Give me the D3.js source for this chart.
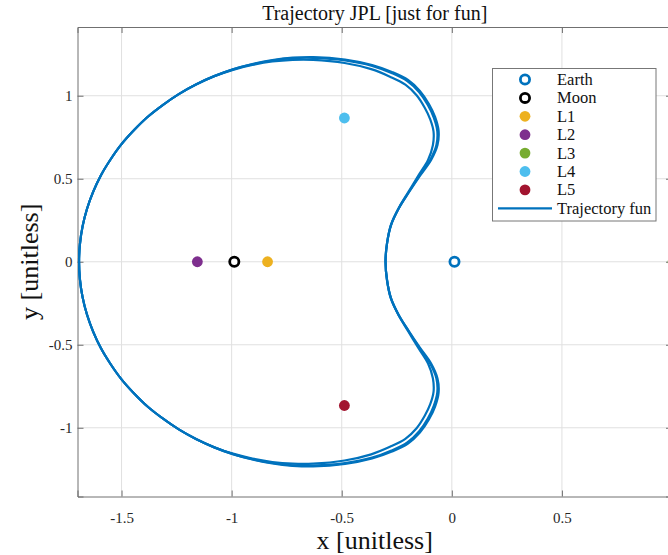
<!DOCTYPE html>
<html>
<head>
<meta charset="utf-8">
<script src="https://cdn.jsdelivr.net/npm/d3@7"></script>
<style>
  html, body { margin: 0; padding: 0; background: #fff; }
  svg { display: block; }
  text { font-family: "Liberation Serif", "DejaVu Serif", serif; }
</style>
</head>
<body>
<svg id="chart" width="668" height="555"></svg>
<script>
// Earth–Moon rotating frame: primaries and Lagrange points
const bodyNames = ["Earth", "Moon", "L1", "L2", "L3", "L4", "L5"];
const bodyX = [0.01215, -0.98785, -0.8369, -1.1557, 1.00506, -0.48785, -0.48785];
const bodyY = [0, 0, 0, 0, 0, 0.866, -0.866];
const bodyColors = ["#0072BD", "#000000", "#EDB120", "#7E2F8E", "#77AC30", "#4DBEEE", "#A2142F"];
const bodyHollow = [true, true, false, false, false, false, false];

// Three successive revolutions of the trajectory (x, y), starting at the inner crossing of y = 0
const loop1 = [
  [-0.301, 0.000], [-0.294, 0.113], [-0.276, 0.221], [-0.240, 0.324], [-0.194, 0.420],
  [-0.145, 0.517], [-0.094, 0.613], [-0.065, 0.703], [-0.060, 0.788], [-0.076, 0.872],
  [-0.104, 0.950], [-0.145, 1.029], [-0.199, 1.095], [-0.272, 1.143], [-0.362, 1.185],
  [-0.485, 1.218], [-0.630, 1.233], [-0.723, 1.229], [-0.815, 1.215], [-0.906, 1.191],
  [-0.994, 1.159], [-1.079, 1.118], [-1.162, 1.068], [-1.240, 1.010], [-1.313, 0.944],
  [-1.382, 0.872], [-1.444, 0.792], [-1.501, 0.707], [-1.550, 0.616], [-1.594, 0.520],
  [-1.629, 0.421], [-1.657, 0.318], [-1.677, 0.213], [-1.689, 0.106], [-1.693, 0.000],
  [-1.689, -0.106], [-1.677, -0.213], [-1.657, -0.318], [-1.629, -0.421], [-1.594, -0.520],
  [-1.550, -0.616], [-1.501, -0.707], [-1.444, -0.792], [-1.382, -0.872], [-1.313, -0.944],
  [-1.240, -1.010], [-1.162, -1.068], [-1.079, -1.118], [-0.994, -1.159], [-0.906, -1.191],
  [-0.815, -1.215], [-0.723, -1.229], [-0.630, -1.233], [-0.485, -1.218], [-0.362, -1.185],
  [-0.272, -1.143], [-0.199, -1.095], [-0.145, -1.029], [-0.104, -0.950], [-0.076, -0.872],
  [-0.060, -0.788], [-0.065, -0.703], [-0.094, -0.613], [-0.145, -0.517], [-0.194, -0.420],
  [-0.240, -0.324], [-0.276, -0.221], [-0.294, -0.113]
];
const loop2 = [
  [-0.301, 0.000], [-0.294, 0.113], [-0.276, 0.221], [-0.240, 0.324], [-0.195, 0.420],
  [-0.147, 0.518], [-0.098, 0.614], [-0.070, 0.703], [-0.066, 0.787], [-0.082, 0.868],
  [-0.109, 0.944], [-0.149, 1.022], [-0.202, 1.088], [-0.274, 1.137], [-0.362, 1.180],
  [-0.485, 1.213], [-0.630, 1.228], [-0.723, 1.226], [-0.815, 1.212], [-0.906, 1.189],
  [-0.994, 1.159], [-1.079, 1.118], [-1.162, 1.068], [-1.240, 1.010], [-1.313, 0.944],
  [-1.382, 0.872], [-1.444, 0.792], [-1.501, 0.707], [-1.550, 0.616], [-1.594, 0.520],
  [-1.629, 0.421], [-1.657, 0.318], [-1.677, 0.213], [-1.689, 0.106], [-1.693, 0.000],
  [-1.689, -0.106], [-1.677, -0.213], [-1.657, -0.318], [-1.629, -0.421], [-1.594, -0.520],
  [-1.550, -0.616], [-1.501, -0.707], [-1.444, -0.792], [-1.382, -0.872], [-1.313, -0.944],
  [-1.240, -1.010], [-1.162, -1.068], [-1.079, -1.118], [-0.994, -1.159], [-0.906, -1.189],
  [-0.815, -1.212], [-0.723, -1.226], [-0.630, -1.228], [-0.485, -1.213], [-0.362, -1.180],
  [-0.274, -1.137], [-0.202, -1.088], [-0.149, -1.022], [-0.109, -0.944], [-0.082, -0.868],
  [-0.066, -0.787], [-0.070, -0.703], [-0.098, -0.614], [-0.147, -0.518], [-0.195, -0.420],
  [-0.240, -0.324], [-0.276, -0.221], [-0.294, -0.113]
];
const loop3 = [
  [-0.301, 0.000], [-0.294, 0.113], [-0.277, 0.221], [-0.241, 0.324], [-0.197, 0.421],
  [-0.152, 0.519], [-0.108, 0.613], [-0.086, 0.702], [-0.083, 0.784], [-0.098, 0.858],
  [-0.123, 0.928], [-0.160, 1.003], [-0.211, 1.067], [-0.281, 1.115], [-0.366, 1.160],
  [-0.487, 1.197], [-0.630, 1.216], [-0.723, 1.216], [-0.815, 1.206], [-0.906, 1.185],
  [-0.994, 1.156], [-1.079, 1.117], [-1.162, 1.067], [-1.240, 1.010], [-1.313, 0.944],
  [-1.382, 0.872], [-1.444, 0.792], [-1.501, 0.707], [-1.550, 0.616], [-1.594, 0.520],
  [-1.629, 0.421], [-1.657, 0.318], [-1.677, 0.213], [-1.689, 0.106], [-1.693, 0.000],
  [-1.689, -0.106], [-1.677, -0.213], [-1.657, -0.318], [-1.629, -0.421], [-1.594, -0.520],
  [-1.550, -0.616], [-1.501, -0.707], [-1.444, -0.792], [-1.382, -0.872], [-1.313, -0.944],
  [-1.240, -1.010], [-1.162, -1.067], [-1.079, -1.117], [-0.994, -1.156], [-0.906, -1.185],
  [-0.815, -1.206], [-0.723, -1.216], [-0.630, -1.216], [-0.487, -1.197], [-0.366, -1.160],
  [-0.281, -1.115], [-0.211, -1.067], [-0.160, -1.003], [-0.123, -0.928], [-0.098, -0.858],
  [-0.083, -0.784], [-0.086, -0.702], [-0.108, -0.613], [-0.152, -0.519], [-0.197, -0.421],
  [-0.241, -0.324], [-0.277, -0.221], [-0.294, -0.113]
];
const trajectoryLoops = [loop1, loop2, loop3];

const xDomain = [-1.7, 1.0];
const yDomain = [-1.414, 1.414];
const xTicks = [-1.5, -1, -0.5, 0, 0.5];
const yTicks = [-1, -0.5, 0, 0.5, 1];
const legendLabels = ["Earth", "Moon", "L1", "L2", "L3", "L4", "L5", "Trajectory fun"];

const trajColor = "#0072BD";
const plotLeft = 77.5, plotRight = 672, plotTop = 27, plotBottom = 496.5;

const svg = d3.select("#chart");
const x = d3.scaleLinear().domain(xDomain).range([plotLeft, plotRight]);
const y = d3.scaleLinear().domain(yDomain).range([plotBottom, plotTop]);

svg.append("defs").append("clipPath").attr("id", "plotclip")
  .append("rect").attr("x", plotLeft).attr("y", plotTop)
  .attr("width", plotRight - plotLeft).attr("height", plotBottom - plotTop);

// grid
const grid = svg.append("g");
grid.selectAll("line.gx").data(xTicks).join("line")
  .attr("x1", d => x(d)).attr("x2", d => x(d))
  .attr("y1", plotTop).attr("y2", plotBottom)
  .attr("stroke", "#e0e0e0").attr("stroke-width", 1);
grid.selectAll("line.gy").data(yTicks).join("line")
  .attr("y1", d => y(d)).attr("y2", d => y(d))
  .attr("x1", plotLeft).attr("x2", plotRight)
  .attr("stroke", "#e0e0e0").attr("stroke-width", 1);

// axes with inward ticks
const axisColor = "#707070";
const xAxisB = svg.append("g").attr("transform", `translate(0,${plotBottom})`)
  .call(d3.axisBottom(x).tickValues(xTicks).tickSize(-6).tickPadding(16)
    .tickFormat(d => String(d)));
const xAxisT = svg.append("g").attr("transform", `translate(0,${plotTop})`)
  .call(d3.axisTop(x).tickValues(xTicks).tickSize(-6).tickFormat(""));
const yAxisL = svg.append("g").attr("transform", `translate(${plotLeft},0)`)
  .call(d3.axisLeft(y).tickValues(yTicks).tickSize(-6).tickPadding(5)
    .tickFormat(d => String(d)));
const yAxisR = svg.append("g").attr("transform", `translate(${plotRight},0)`)
  .call(d3.axisRight(y).tickValues(yTicks).tickSize(-6).tickFormat(""));
[xAxisB, xAxisT, yAxisL, yAxisR].forEach(g => {
  g.select(".domain").attr("stroke", axisColor).attr("stroke-width", 1);
  g.selectAll(".tick line").attr("stroke", axisColor).attr("stroke-width", 1);
  g.selectAll(".tick text").attr("fill", "#262626")
    .style("font-family", "'Liberation Serif', serif").style("font-size", "15px");
});

// trajectory and bodies
const plot = svg.append("g").attr("clip-path", "url(#plotclip)");
const line = d3.line().x(d => x(d[0])).y(d => y(d[1])).curve(d3.curveCatmullRomClosed.alpha(0.5));

const bodies = bodyNames.map((n, i) => ({ name: n, x: bodyX[i], y: bodyY[i], c: bodyColors[i], hollow: bodyHollow[i] }));
plot.selectAll("circle.body").data(bodies).join("circle")
  .attr("cx", d => x(d.x)).attr("cy", d => y(d.y))
  .attr("r", d => d.hollow ? 4.6 : 5.4)
  .attr("fill", d => d.hollow ? "#fff" : d.c)
  .attr("stroke", d => d.hollow ? d.c : "none")
  .attr("stroke-width", d => d.hollow ? 2.8 : 0);

plot.selectAll("path.loop").data(trajectoryLoops).join("path")
  .attr("d", line)
  .attr("fill", "none").attr("stroke", trajColor).attr("stroke-width", 2.2);

// title and labels
svg.append("text").attr("x", (plotLeft + plotRight) / 2).attr("y", 20)
  .attr("text-anchor", "middle").attr("fill", "#111").style("font-size", "20px")
  .text("Trajectory JPL [just for fun]");
svg.append("text").attr("x", (plotLeft + plotRight) / 2).attr("y", 549)
  .attr("text-anchor", "middle").attr("fill", "#111").style("font-size", "26px")
  .text("x [unitless]");
svg.append("text").attr("transform", `translate(38,${(plotTop + plotBottom) / 2}) rotate(-90)`)
  .attr("text-anchor", "middle").attr("fill", "#111").style("font-size", "26px")
  .text("y [unitless]");

// legend
const lg = svg.append("g");
const lgX = 492.5, lgY = 68.5, lgW = 163.5, lgH = 152.5, rowH = 18.4;
lg.append("rect").attr("x", lgX).attr("y", lgY).attr("width", lgW).attr("height", lgH)
  .attr("fill", "#fff").attr("stroke", "#777").attr("stroke-width", 1);
const rows = legendLabels.map((t, i) => ({ t, i }));
const row = lg.selectAll("g.row").data(rows).join("g")
  .attr("transform", d => `translate(0,${lgY + 11 + d.i * rowH})`);
row.filter(d => d.i < bodies.length).append("circle")
  .attr("cx", 525).attr("cy", 0)
  .attr("r", d => bodies[d.i].hollow ? 4.6 : 5.4)
  .attr("fill", d => bodies[d.i].hollow ? "#fff" : bodies[d.i].c)
  .attr("stroke", d => bodies[d.i].hollow ? bodies[d.i].c : "none")
  .attr("stroke-width", d => bodies[d.i].hollow ? 2.8 : 0);
row.filter(d => d.i === bodies.length).append("line")
  .attr("x1", 498).attr("x2", 552).attr("y1", 0).attr("y2", 0)
  .attr("stroke", trajColor).attr("stroke-width", 2.2);
row.append("text").attr("x", 557).attr("y", 5.5)
  .attr("fill", "#111").style("font-size", "16.5px").text(d => d.t);
</script>
</body>
</html>
